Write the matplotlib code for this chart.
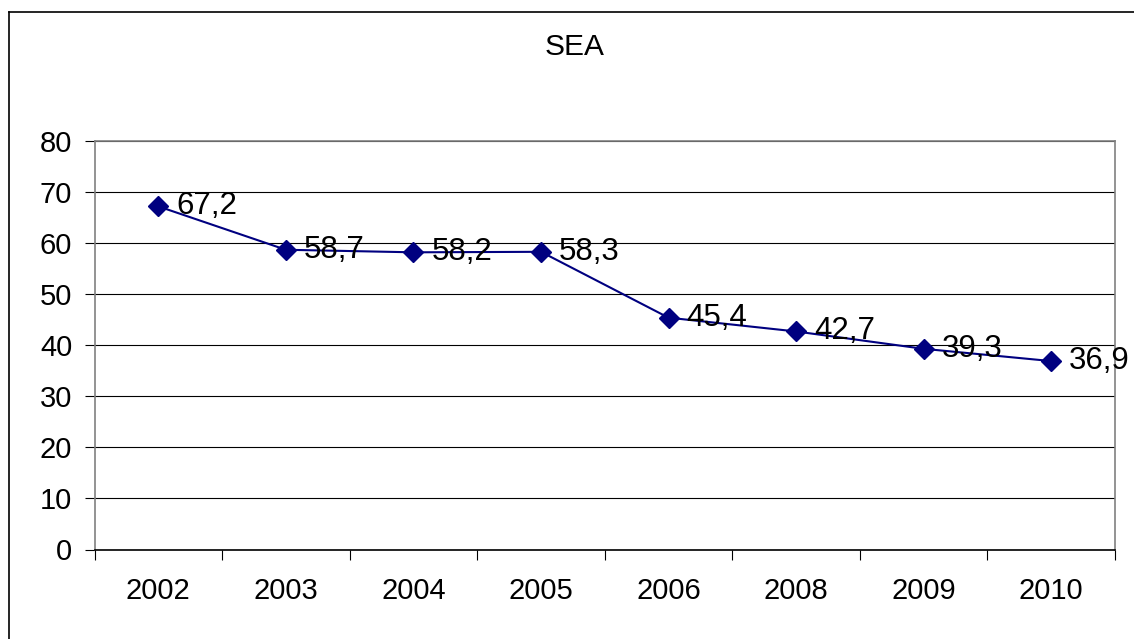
import matplotlib.pyplot as plt
from matplotlib.lines import Line2D
from matplotlib.ticker import FixedLocator, NullFormatter

years = ['2002', '2003', '2004', '2005', '2006', '2008', '2009', '2010']
values = [67.2, 58.7, 58.2, 58.3, 45.4, 42.7, 39.3, 36.9]
labels = ['67,2', '58,7', '58,2', '58,3', '45,4', '42,7', '39,3', '36,9']

plt.rcParams['font.family'] = ['Liberation Sans', 'DejaVu Sans']

fig = plt.figure(figsize=(11.34, 6.39), dpi=100)
ax = fig.add_axes([94.5 / 1134, 1 - 549.5 / 639, (1115 - 94.5) / 1134, (549.5 - 141) / 639])

x = list(range(len(years)))
ax.plot(x, values, color='#000080', lw=1.5, marker='D', markersize=10.5,
        markerfacecolor='#000080', markeredgecolor='#000080', zorder=3)
for xi, v, lab in zip(x, values, labels):
    ax.annotate(lab, (xi, v), xytext=(13, 0), textcoords='offset points',
                fontsize=22.5, va='center', ha='left', zorder=4)

ax.set_xlim(-0.5, len(years) - 0.5)
ax.set_ylim(0, 80)
ax.set_yticks(range(0, 81, 10))
ax.yaxis.grid(True, color='black', lw=0.8)
ax.set_axisbelow(True)

ax.set_xticks(x)
ax.set_xticklabels(years)
ax.xaxis.set_minor_locator(FixedLocator([i - 0.5 for i in range(len(years) + 1)]))
ax.xaxis.set_minor_formatter(NullFormatter())
ax.tick_params(axis='x', which='major', length=0, pad=20, labelsize=21)
ax.tick_params(axis='x', which='minor', length=7, width=0.8, color='black')
ax.tick_params(axis='y', length=7, width=0.8, color='black', pad=9, labelsize=21)

for side in ['left', 'right', 'top', 'bottom']:
    ax.spines[side].set_color('#808080')
    ax.spines[side].set_linewidth(1.2)
ax.spines['bottom'].set_color('black')

fig.text(574.5 / 1134, 1 - 47 / 639, 'SEA', fontsize=21.5, ha='center', va='center')

fig.add_artist(Line2D([9 / 1134, 9 / 1134], [0, 1 - 12 / 639], color='black', lw=1.2,
                      transform=fig.transFigure))
fig.add_artist(Line2D([9 / 1134, 1], [1 - 12 / 639, 1 - 12 / 639], color='black', lw=1.2,
                      transform=fig.transFigure))

fig.savefig('out.png', dpi=100)
